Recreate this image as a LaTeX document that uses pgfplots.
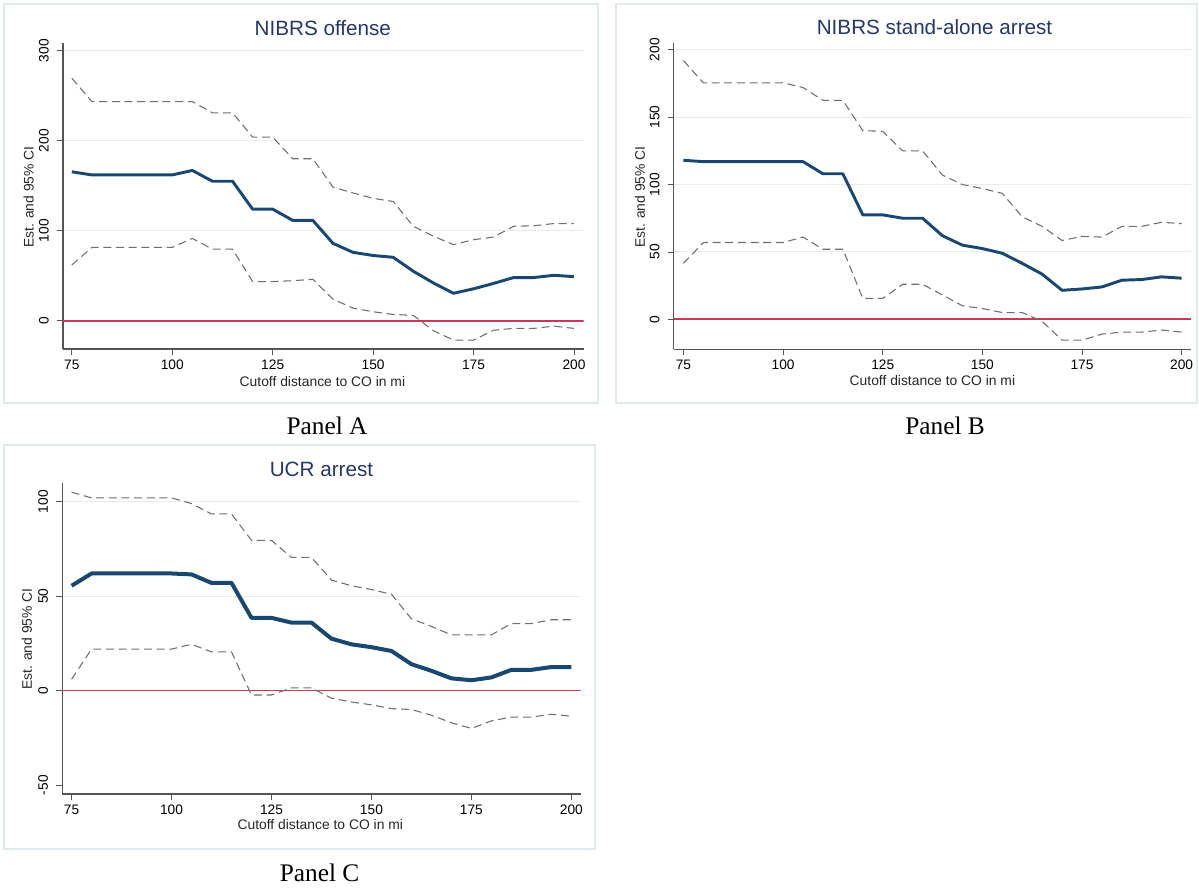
\documentclass[border=0pt]{standalone}
\usepackage{pgfplots}
\pgfplotsset{compat=1.18}
\usepackage{pgfplotstable}
\usepackage{fontspec}
\setmainfont{Liberation Sans}
\newfontfamily\panelfont{Liberation Serif}

\definecolor{estblue}{HTML}{1A476F}
\definecolor{cigray}{HTML}{6E6E6E}
\definecolor{zerored}{HTML}{C8385A}
\definecolor{gridc}{HTML}{E4EDF0}
\definecolor{framec}{HTML}{E1E9EC}
\definecolor{titlec}{HTML}{263766}
\definecolor{axisc}{HTML}{555555}

% columns: cutoff distance, estimate, lower and upper 95% bounds
\pgfplotstableread{
x   est    lo     hi
75  165.5  62     269.5
80  162    81.5   243.5
85  162    81.5   243.5
90  162    81.5   243.5
95  162    81.5   243.5
100 162    81.5   243.5
105 167    91.5   243.5
110 155    79.5   231
115 155    79.5   231
120 124    43.5   204
125 124    43.5   204
130 111.5  44.5   180
135 111.5  46     180
140 86     24     148.5
145 76     14     142
150 72.5   10     136
155 70.5   7      132.5
160 55     6      105
165 42     -11    94
170 30.5   -21.5  84.5
175 35.5   -21.5  90
180 41.5   -10.5  93
185 48     -8.5   105
190 48     -8.5   105.5
195 50.5   -6     108
200 49     -8.5   108
}\offense

\pgfplotstableread{
x   est    lo     hi
75  118    41.5   192
80  117    57     175.5
85  117    57     175.5
90  117    57     175.5
95  117    57     175.5
100 117    57     175.5
105 117    61     172
110 108    52     162.5
115 108    52     162.5
120 77.5   15.5   140
125 77.5   15.5   139.5
130 75     26     125
135 75     26     125
140 62     18     107
145 55     10     100
150 52.5   8      97
155 49     5      93.5
160 41.5   5      76
165 33.5   -1.5   69
170 21.5   -15.5  58.5
175 22.5   -15.5  61.5
180 24     -11    61
185 29     -9.5   69
190 29.5   -9.5   69
195 31.5   -8     72
200 30.5   -9.5   71
}\standalonearrest

\pgfplotstableread{
x   est    lo     hi
75  55.5   6      105
80  62     22     102
85  62     22     102
90  62     22     102
95  62     22     102
100 62     22     102
105 61.5   24.5   99
110 57     20.5   93.5
115 57     20.5   93.5
120 38.5   -2.3   79.5
125 38.5   -2.3   79.5
130 36     1.5    70.5
135 36     1.5    70.5
140 27.5   -4     58.5
145 24.5   -6     55.5
150 23     -7.5   53.5
155 21     -9.5   51
160 14     -10    38
165 10.5   -13    34
170 6.5    -17    29.5
175 5.5    -20    29.5
180 7      -16    29.5
185 11     -14    35.5
190 11     -14    35.5
195 12.5   -12.5  37.5
200 12.5   -13.5  37.5
}\ucrarrest

\pgfplotsset{
  stpanel/.style={
    scale only axis,
    axis x line*=bottom,
    axis y line*=left,
    axis line style={axisc, line width=0.8pt},
    tick style={axisc, line width=0.6pt},
    tick align=outside,
    major tick length=4.5pt,
    xtick={75,100,...,200},
    ymajorgrids,
    grid style={gridc, line width=0.7pt},
    tick label style={font=\fontsize{10.3}{12}\selectfont, text=black},
    /pgf/number format/assume math mode=true,
    yticklabel style={rotate=90, anchor=south, inner sep=1pt},
    xticklabel style={anchor=north, inner sep=1pt},
    yticklabel shift=5pt,
    xticklabel shift=2.5pt,
  },
  estline/.style={estblue, line width=2.2pt, line join=round},
  ciline/.style={cigray, line width=0.8pt, dash pattern=on 6pt off 3.5pt},
  zeroline/.style={zerored, line width=1.2pt},
}

\begin{document}
\begin{tikzpicture}
\useasboundingbox (0pt,0pt) rectangle (899.25pt,-666pt);

% panel frames
\draw[framec, line width=0.8pt] (3pt,-3pt) rectangle (448.5pt,-302.25pt);
\draw[framec, line width=0.8pt] (462pt,-3pt) rectangle (897.75pt,-302.25pt);
\draw[framec, line width=0.8pt] (3pt,-333.75pt) rectangle (446.25pt,-636.75pt);

% Panel A
\begin{axis}[stpanel,
  anchor=south west, at={(47.25pt,-261.75pt)},
  width=390.45pt, height=229.5pt,
  xmin=72.8, xmax=202.4, ymin=-31.4, ymax=308.6,
  ytick={0,100,200,300}]
\addplot[zeroline] coordinates {(72.8,0) (202.4,0)};
\addplot[ciline] table[x=x, y=hi] {\offense};
\addplot[ciline] table[x=x, y=lo] {\offense};
\addplot[estline] table[x=x, y=est] {\offense};
\end{axis}

% Panel B
\begin{axis}[stpanel,
  anchor=south west, at={(505.4pt,-262pt)},
  width=388pt, height=230pt,
  xmin=72.6, xmax=202.4, ymin=-22.3, ymax=205.3,
  ytick={0,50,100,150,200}]
\addplot[zeroline] coordinates {(72.6,0) (202.4,0)};
\addplot[ciline] table[x=x, y=hi] {\standalonearrest};
\addplot[ciline] table[x=x, y=lo] {\standalonearrest};
\addplot[estline] table[x=x, y=est] {\standalonearrest};
\end{axis}

% Panel C
\begin{axis}[stpanel,
  anchor=south west, at={(46.8pt,-595.5pt)},
  width=388.6pt, height=233pt,
  xmin=72.7, xmax=202.3, ymin=-54.7, ymax=109.7,
  ytick={0,50,100},
  extra y ticks={-50}, extra y tick style={grid=none}]
\addplot[zeroline] coordinates {(72.7,0) (202.3,0)};
\addplot[ciline] table[x=x, y=hi] {\ucrarrest};
\addplot[ciline] table[x=x, y=lo] {\ucrarrest};
\addplot[estline, line width=3pt] table[x=x, y=est] {\ucrarrest};
\end{axis}

% titles
\node[titlec, font=\fontsize{15.5}{18}\selectfont] at (242.1pt,-20.8pt) {NIBRS offense};
\node[titlec, font=\fontsize{15.5}{18}\selectfont] at (700.9pt,-20.25pt) {NIBRS stand-alone arrest};
\node[titlec, font=\fontsize{15.5}{18}\selectfont] at (241.1pt,-351.75pt) {UCR arrest};

% axis titles
\node[font=\fontsize{10.4}{12}\selectfont, text=black!85] at (241.8pt,-286pt) {Cutoff distance to CO in mi};
\node[font=\fontsize{10.4}{12}\selectfont, text=black!85] at (699.3pt,-285.75pt) {Cutoff distance to CO in mi};
\node[font=\fontsize{10.4}{12}\selectfont, text=black!85] at (240.2pt,-618.75pt) {Cutoff distance to CO in mi};
\node[rotate=90, font=\fontsize{10.4}{12}\selectfont, text=black!85] at (21.5pt,-147.75pt) {Est. and 95\% CI};
\node[rotate=90, font=\fontsize{10.4}{12}\selectfont, text=black!85] at (480pt,-147.75pt) {Est. and 95\% CI};
\node[rotate=90, font=\fontsize{10.4}{12}\selectfont, text=black!85] at (20.1pt,-479.25pt) {Est. and 95\% CI};

% panel captions
\node[font=\panelfont\fontsize{19}{22}\selectfont] at (245.25pt,-319.5pt) {Panel A};
\node[font=\panelfont\fontsize{19}{22}\selectfont] at (708.75pt,-319.5pt) {Panel B};
\node[font=\panelfont\fontsize{19}{22}\selectfont] at (239.7pt,-654.75pt) {Panel C};
\end{tikzpicture}
\end{document}
